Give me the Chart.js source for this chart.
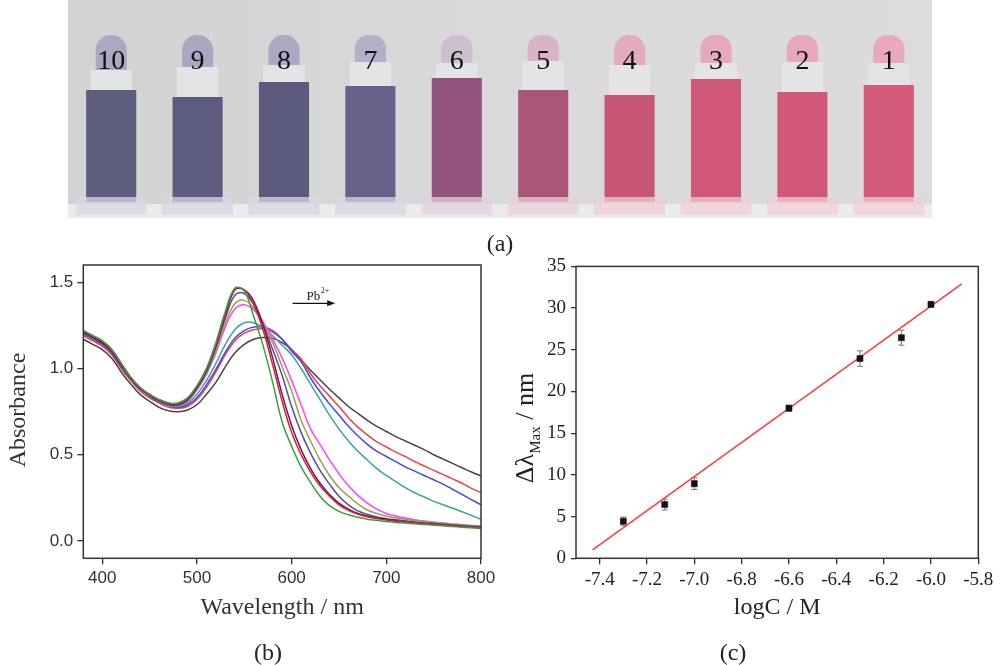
<!DOCTYPE html>
<html><head><meta charset="utf-8">
<script src="https://cdn.jsdelivr.net/npm/chart.js@4.4.0/dist/chart.umd.min.js"></script>
<style>
html,body{margin:0;padding:0;background:#fff;}
body{width:1000px;height:665px;position:relative;overflow:hidden;}
canvas{position:absolute;}
#ca{left:68px;top:0;}
#cb{left:0;top:250px;}
#cc{left:500px;top:250px;}
.lab{position:absolute;font:24px "Liberation Serif",serif;color:#222;transform:translate(-50%,-50%);white-space:nowrap;}
</style></head><body>
<canvas id="ca" width="864" height="218"></canvas>
<canvas id="cb" width="500" height="400"></canvas>
<canvas id="cc" width="500" height="400"></canvas>
<div class="lab" style="left:500px;top:243px">(a)</div>
<div class="lab" style="left:268px;top:652px">(b)</div>
<div class="lab" style="left:733px;top:652px">(c)</div>
<script>
// ---------- (a) tubes ----------
const tubeLabels = ['10','9','8','7','6','5','4','3','2','1'];
const liquidLevel = [128,121,136,132,140,128,123,139,126,133];
const tipStart = [148,151,153,156,155,157,153,155,156,155];
const liquidColors = ['#5f5d7d','#5e5c7e','#5d5b7d','#66628a','#91557d','#aa5578','#c85573','#cf5877','#d25878','#d55b7a'];
const tipColors = ['#aaa9c0','#a9a8c0','#aba9c2','#b2afc9','#cdbfd0','#d9b4c9','#e3aac0','#e6a8bc','#e7a8bc','#e8a9bd'];
const capColors = ['rgba(215,215,225,0.75)','rgba(215,215,225,0.75)','rgba(215,215,225,0.75)','rgba(215,215,225,0.75)','rgba(225,210,222,0.75)','rgba(232,208,220,0.75)','rgba(238,205,215,0.75)','rgba(240,205,215,0.75)','rgba(240,205,215,0.75)','rgba(240,205,215,0.75)'];

// ---------- (b) spectra ----------
const wavelengths = [380,390,400,410,420,430,440,450,460,470,480,490,500,510,520,530,540,550,560,570,580,590,600,610,620,630,640,650,660,670,680,690,700,710,720,730,740,750,760,770,780,790,800];
const absGreen   = [1.22,1.19,1.16,1.11,1.03,0.95,0.89,0.85,0.82,0.80,0.80,0.83,0.90,1.00,1.15,1.33,1.465,1.45,1.30,1.13,0.92,0.69,0.55,0.43,0.34,0.26,0.205,0.172,0.152,0.138,0.127,0.12,0.113,0.108,0.104,0.10,0.096,0.092,0.088,0.084,0.08,0.077,0.073];
const absCrimson = [1.22,1.19,1.16,1.11,1.03,0.95,0.89,0.85,0.82,0.80,0.795,0.825,0.895,0.995,1.14,1.32,1.46,1.455,1.37,1.22,1.02,0.81,0.63,0.50,0.40,0.32,0.26,0.21,0.178,0.155,0.14,0.13,0.122,0.115,0.11,0.105,0.10,0.096,0.092,0.088,0.084,0.08,0.077];
const absWine    = [1.21,1.18,1.15,1.10,1.02,0.945,0.885,0.845,0.815,0.795,0.79,0.82,0.89,0.99,1.135,1.31,1.455,1.455,1.39,1.25,1.06,0.85,0.67,0.53,0.42,0.335,0.27,0.22,0.185,0.16,0.145,0.134,0.126,0.118,0.112,0.107,0.102,0.097,0.093,0.089,0.085,0.081,0.078];
const absNavy    = [1.21,1.18,1.15,1.10,1.02,0.945,0.885,0.845,0.815,0.79,0.79,0.815,0.885,0.98,1.12,1.29,1.425,1.435,1.37,1.25,1.11,0.96,0.78,0.63,0.51,0.41,0.33,0.26,0.21,0.175,0.155,0.14,0.13,0.123,0.117,0.111,0.106,0.101,0.097,0.093,0.089,0.085,0.081];
const absOlive   = [1.21,1.18,1.15,1.10,1.02,0.945,0.885,0.845,0.815,0.79,0.785,0.81,0.88,0.97,1.10,1.26,1.375,1.395,1.35,1.26,1.15,1.01,0.87,0.70,0.58,0.47,0.38,0.31,0.26,0.215,0.18,0.16,0.145,0.135,0.127,0.12,0.114,0.108,0.103,0.098,0.094,0.09,0.086];
const absMagenta = [1.21,1.18,1.15,1.10,1.02,0.945,0.885,0.845,0.815,0.79,0.785,0.81,0.875,0.965,1.09,1.24,1.345,1.37,1.34,1.27,1.17,1.06,0.93,0.79,0.65,0.56,0.47,0.39,0.32,0.265,0.22,0.185,0.16,0.145,0.133,0.124,0.116,0.11,0.104,0.099,0.094,0.09,0.086];
const absTeal    = [1.21,1.18,1.15,1.10,1.02,0.945,0.885,0.845,0.81,0.79,0.78,0.80,0.85,0.93,1.03,1.14,1.225,1.265,1.265,1.235,1.19,1.135,1.08,1.00,0.91,0.82,0.73,0.65,0.58,0.52,0.47,0.42,0.38,0.345,0.31,0.28,0.255,0.23,0.21,0.19,0.17,0.148,0.126];
const absBlue    = [1.20,1.17,1.14,1.09,1.01,0.94,0.88,0.84,0.805,0.785,0.775,0.79,0.83,0.905,0.995,1.095,1.175,1.22,1.24,1.24,1.22,1.17,1.10,1.04,0.945,0.865,0.795,0.73,0.665,0.61,0.56,0.52,0.49,0.46,0.43,0.405,0.38,0.355,0.33,0.30,0.27,0.24,0.21];
const absRed     = [1.19,1.16,1.13,1.08,1.00,0.93,0.87,0.83,0.80,0.775,0.77,0.78,0.82,0.89,0.98,1.08,1.16,1.205,1.225,1.23,1.21,1.17,1.11,1.055,0.97,0.90,0.84,0.78,0.715,0.66,0.615,0.575,0.545,0.515,0.49,0.46,0.435,0.41,0.385,0.36,0.335,0.305,0.28];
const absBlack   = [1.17,1.14,1.11,1.06,0.98,0.91,0.85,0.81,0.775,0.755,0.75,0.76,0.79,0.85,0.92,1.01,1.09,1.14,1.17,1.18,1.175,1.15,1.11,1.05,0.99,0.935,0.88,0.83,0.78,0.74,0.70,0.665,0.635,0.605,0.58,0.555,0.53,0.50,0.475,0.45,0.425,0.40,0.377];
const spectra = [absGreen,absCrimson,absWine,absNavy,absOlive,absMagenta,absTeal,absBlue,absRed,absBlack];
const spectraColors = ['#3a9e3a','#cc2244','#7d1045','#5050a6','#a0a040','#ff44ff','#3ca2a0','#4646e6','#ee4444','#444444'];
const xTicksB = [400,500,600,700,800];
const yTicksB = [0,0.5,1.0,1.5];
const arrowWl = [601,646];
const arrowAbs = 1.378;

// ---------- (c) calibration ----------
const logC = [-7.3,-7.125,-7.0,-6.6,-6.3,-6.125,-6.0];
const dLambda = [4.45,6.45,8.95,18.0,23.95,26.45,30.45];
const dLambdaErr = [0.5,0.65,0.7,0.35,0.93,0.9,0.3];
const fitX = [-7.43,-5.87];
const fitY = [1.0,32.9];
const xTicksC = [-7.4,-7.2,-7.0,-6.8,-6.6,-6.4,-6.2,-6.0,-5.8];
const yTicksC = [0,5,10,15,20,25,30,35];

const SERIF = '"Liberation Serif", "Times New Roman", serif';
const SANS = '"Liberation Sans", Arial, sans-serif';

const framePlugin = {
  id: 'frame',
  afterDraw(chart) {
    const {ctx, chartArea: a} = chart;
    ctx.save();
    ctx.strokeStyle = '#333'; ctx.lineWidth = 1.5;
    ctx.strokeRect(a.left, a.top, a.right - a.left, a.bottom - a.top);
    ctx.restore();
  }
};

// ---------- chart (a) ----------
const photoBg = {
  id: 'photoBg',
  beforeDraw(chart) {
    const {ctx, width, height} = chart;
    const g = ctx.createLinearGradient(0, 0, width, 0);
    g.addColorStop(0, '#d2d2d3'); g.addColorStop(0.5, '#d9d9da'); g.addColorStop(1, '#dcdcdd');
    ctx.save();
    ctx.fillStyle = g; ctx.fillRect(0, 0, width, height);
    ctx.fillStyle = '#ebebec'; ctx.fillRect(0, height - 14, width, 14);
    ctx.restore();
  },
  afterDatasetsDraw(chart) {
    const {ctx, scales} = chart;
    ctx.save();
    ctx.font = '28px ' + SERIF; ctx.fillStyle = '#111';
    ctx.textAlign = 'center'; ctx.textBaseline = 'middle';
    tubeLabels.forEach((t, i) => ctx.fillText(t, scales.x.getPixelForValue(i), 62));
    ctx.restore();
  }
};
new Chart(document.getElementById('ca'), {
  type: 'bar',
  data: {
    labels: tubeLabels,
    datasets: [
      {data: tubeLabels.map(() => [3, 21]), backgroundColor: capColors, barPercentage: 0.82, categoryPercentage: 1, grouped: false},
      {data: liquidLevel.map(v => [16, v]), backgroundColor: liquidColors, barPercentage: 0.58, categoryPercentage: 1, grouped: false},
      {data: liquidLevel.map((v, i) => [v, tipStart[i]]), backgroundColor: '#e4e4e7', barPercentage: 0.48, categoryPercentage: 1, grouped: false},
      {data: tipStart.map(v => [v, 183]), backgroundColor: tipColors, barPercentage: 0.36, categoryPercentage: 1, grouped: false,
       borderRadius: {topLeft: 15, topRight: 15, bottomLeft: 0, bottomRight: 0}, borderSkipped: false}
    ]
  },
  options: {
    responsive: false, animation: false, devicePixelRatio: 1,
    layout: {padding: 0},
    plugins: {legend: {display: false}, tooltip: {enabled: false}},
    scales: {
      x: {display: false, offset: true},
      y: {display: false, min: 0, max: 218}
    }
  },
  plugins: [photoBg]
});

// ---------- chart (b) ----------
const textB = {
  id: 'textB',
  afterDraw(chart) {
    const {ctx, chartArea: a, scales} = chart;
    ctx.save();
    ctx.fillStyle = '#333'; ctx.font = '24px ' + SERIF;
    ctx.textAlign = 'center'; ctx.textBaseline = 'middle';
    ctx.fillText('Wavelength / nm', (a.left + a.right) / 2, 358);
    ctx.save(); ctx.translate(19, 160); ctx.rotate(-Math.PI / 2);
    ctx.fillText('Absorbance', 0, 0); ctx.restore();
    // Pb2+ arrow
    const x1 = scales.x.getPixelForValue(arrowWl[0]);
    const x2 = scales.x.getPixelForValue(arrowWl[1]);
    const y = scales.y.getPixelForValue(arrowAbs);
    ctx.strokeStyle = '#111'; ctx.fillStyle = '#111'; ctx.lineWidth = 1.2;
    ctx.beginPath(); ctx.moveTo(x1, y); ctx.lineTo(x2 - 6, y); ctx.stroke();
    ctx.beginPath(); ctx.moveTo(x2, y); ctx.lineTo(x2 - 8, y - 3); ctx.lineTo(x2 - 8, y + 3); ctx.closePath(); ctx.fill();
    ctx.textAlign = 'left'; ctx.textBaseline = 'alphabetic';
    ctx.font = '13px ' + SERIF; ctx.fillStyle = '#222';
    ctx.fillText('Pb', x1 + 14, y - 3.5);
    const w = ctx.measureText('Pb').width;
    ctx.font = '8px ' + SERIF;
    ctx.fillText('2+', x1 + 14 + w + 0.5, y - 10);
    ctx.restore();
  }
};
new Chart(document.getElementById('cb'), {
  type: 'line',
  data: {
    datasets: spectra.map((s, i) => ({
      data: s.map((v, j) => ({x: wavelengths[j], y: v})),
      borderColor: spectraColors[i], borderWidth: 1.5, pointRadius: 0, tension: 0.4, fill: false
    }))
  },
  options: {
    responsive: false, animation: false, devicePixelRatio: 1,
    layout: {padding: {top: 15, right: 19, left: 0, bottom: 0}},
    plugins: {legend: {display: false}, tooltip: {enabled: false}},
    scales: {
      x: {
        type: 'linear', min: 380, max: 800,
        afterBuildTicks: s => { s.ticks = xTicksB.map(v => ({value: v})); },
        afterFit: s => { s.height = 91.7; },
        ticks: {font: {family: SANS, size: 17}, color: '#333', padding: 4, maxRotation: 0, autoSkip: false, callback: v => String(v)},
        grid: {drawOnChartArea: false, drawTicks: true, tickLength: 6, color: '#333', lineWidth: 1.3},
        border: {display: false}
      },
      y: {
        type: 'linear', min: -0.1, max: 1.6,
        afterBuildTicks: s => { s.ticks = yTicksB.map(v => ({value: v})); },
        afterFit: s => { s.width = 83.3; },
        ticks: {font: {family: SANS, size: 17}, color: '#333', padding: 4, autoSkip: false, callback: v => Number(v).toFixed(1)},
        grid: {drawOnChartArea: false, drawTicks: true, tickLength: 6, color: '#333', lineWidth: 1.3},
        border: {display: false}
      }
    }
  },
  plugins: [framePlugin, textB]
});

// ---------- chart (c) ----------
const errBars = {
  id: 'errBars',
  beforeDatasetsDraw(chart) {
    const {ctx, scales} = chart;
    ctx.save();
    ctx.strokeStyle = '#777'; ctx.lineWidth = 1;
    logC.forEach((x, i) => {
      const px = scales.x.getPixelForValue(x);
      const y1 = scales.y.getPixelForValue(dLambda[i] - dLambdaErr[i]);
      const y2 = scales.y.getPixelForValue(dLambda[i] + dLambdaErr[i]);
      ctx.beginPath();
      ctx.moveTo(px, y1); ctx.lineTo(px, y2);
      ctx.moveTo(px - 3, y1); ctx.lineTo(px + 3, y1);
      ctx.moveTo(px - 3, y2); ctx.lineTo(px + 3, y2);
      ctx.stroke();
    });
    ctx.restore();
  }
};
const textC = {
  id: 'textC',
  afterDraw(chart) {
    const {ctx, chartArea: a} = chart;
    ctx.save();
    ctx.fillStyle = '#222'; ctx.font = '24px ' + SERIF;
    ctx.textAlign = 'center'; ctx.textBaseline = 'middle';
    ctx.fillText('logC / M', (a.left + a.right) / 2, 358);
    ctx.translate(33, 178); ctx.rotate(-Math.PI / 2);
    const f1 = '26px ' + SERIF, f2 = '15px ' + SERIF;
    ctx.font = f1; const w1 = ctx.measureText('\u0394\u03bb').width; const w3 = ctx.measureText(' / nm').width;
    ctx.font = f2; const w2 = ctx.measureText('Max').width;
    let u = -(w1 + w2 + w3) / 2;
    ctx.textAlign = 'left'; ctx.textBaseline = 'alphabetic';
    ctx.font = f1; ctx.fillText('\u0394\u03bb', u, 0); u += w1;
    ctx.font = f2; ctx.fillText('Max', u, 7); u += w2;
    ctx.font = f1; ctx.fillText(' / nm', u, 0);
    ctx.restore();
  }
};
new Chart(document.getElementById('cc'), {
  type: 'scatter',
  data: {
    datasets: [
      {data: logC.map((x, i) => ({x: x, y: dLambda[i]})), pointStyle: 'rect', pointRadius: 4.3, backgroundColor: '#111', borderColor: '#111', borderWidth: 0.5},
      {data: fitX.map((x, i) => ({x: x, y: fitY[i]})), showLine: true, borderColor: '#ff3b3b', borderWidth: 1.5, pointRadius: 0, fill: false}
    ]
  },
  options: {
    responsive: false, animation: false, devicePixelRatio: 1,
    layout: {padding: {top: 14.3, right: 21.7, left: 0, bottom: 0}},
    plugins: {legend: {display: false}, tooltip: {enabled: false}},
    scales: {
      x: {
        type: 'linear', min: -7.5, max: -5.8,
        afterBuildTicks: s => { s.ticks = xTicksC.map(v => ({value: v})); },
        afterFit: s => { s.height = 91.7; },
        ticks: {font: {family: SERIF, size: 19}, color: '#222', padding: 4, maxRotation: 0, autoSkip: false, callback: v => Number(v).toFixed(1)},
        grid: {drawOnChartArea: false, drawTicks: true, tickLength: 6, color: '#333', lineWidth: 1.3},
        border: {display: false}
      },
      y: {
        type: 'linear', min: 0, max: 35,
        afterBuildTicks: s => { s.ticks = yTicksC.map(v => ({value: v})); },
        afterFit: s => { s.width = 76; },
        ticks: {font: {family: SERIF, size: 19}, color: '#222', padding: 5, autoSkip: false, callback: v => String(v)},
        grid: {drawOnChartArea: false, drawTicks: true, tickLength: 5, color: '#333', lineWidth: 1.3},
        border: {display: false}
      }
    }
  },
  plugins: [framePlugin, errBars, textC]
});
</script>
</body></html>
